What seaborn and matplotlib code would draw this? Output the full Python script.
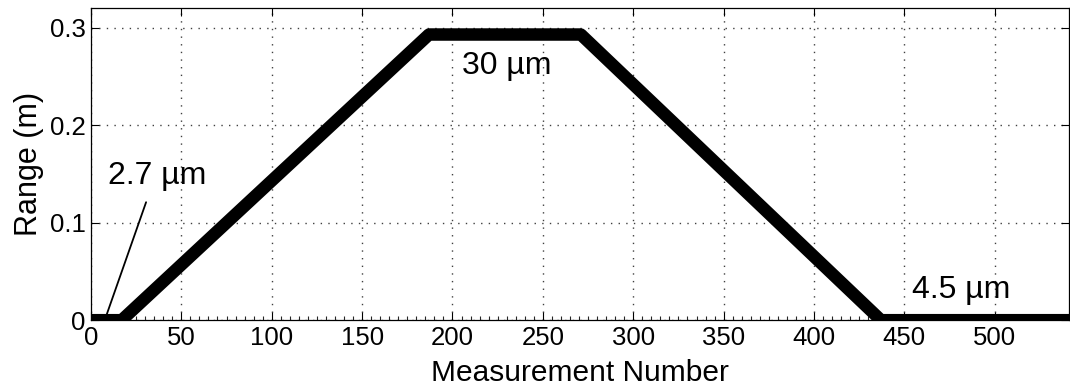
import numpy as np
import pandas as pd
import matplotlib
matplotlib.use("Agg")
import matplotlib.pyplot as plt
import seaborn as sns
from matplotlib.ticker import MultipleLocator, FuncFormatter

# breakpoints of the range profile
meas_num = [0, 17, 187, 271, 437, 541]
range_m = [0.0, 0.0, 0.293, 0.293, 0.0, 0.0]

# annotation labels and where they sit
note_text = ["2.7 \u00b5m", "30 \u00b5m", "4.5 \u00b5m"]
note_x = [9.5, 205, 454]
note_y = [0.148, 0.261, 0.031]

df = pd.DataFrame({"Measurement Number": meas_num, "Range (m)": range_m})

sns.set_style("ticks")
plt.rcParams["font.family"] = ["Liberation Sans", "DejaVu Sans"]
plt.rcParams["text.color"] = "black"
plt.rcParams["axes.labelcolor"] = "black"

fig = plt.figure(figsize=(10.7, 3.9), dpi=100)
ax = fig.add_axes([0.085, 0.179, 0.914, 0.8])

sns.lineplot(data=df, x="Measurement Number", y="Range (m)", ax=ax,
             color="black", linewidth=9, solid_capstyle="round",
             solid_joinstyle="round")

ax.set_xlim(0, 541)
ax.set_ylim(0, 0.32)
ax.xaxis.set_major_locator(MultipleLocator(50))
ax.xaxis.set_minor_locator(MultipleLocator(5))
ax.yaxis.set_major_locator(MultipleLocator(0.1))
ax.yaxis.set_major_formatter(FuncFormatter(lambda v, p: "0" if abs(v) < 1e-9 else f"{v:.1f}"))

ax.grid(True, which="major", color="0.25", linestyle=(0, (1, 4.5)), linewidth=1)
ax.tick_params(which="major", direction="in", length=6, width=0.8,
               top=True, right=True, labelsize=18.5, pad=4, colors="black")
ax.tick_params(axis="x", which="minor", direction="in", length=3, width=0.8, top=False)
for s in ax.spines.values():
    s.set_color("black")
    s.set_linewidth(0.9)

ax.set_xlabel("Measurement Number", fontsize=21.5, labelpad=7)
ax.set_ylabel("Range (m)", fontsize=22, labelpad=4)

for t, x, y in zip(note_text, note_x, note_y):
    ax.text(x, y, t, fontsize=23, ha="left", va="center", color="black")

# pointer line for the first label
ax.plot([30.5, 7.8], [0.121, 0.001], color="black", linewidth=1.3)

fig.savefig("out.png", dpi=100)
